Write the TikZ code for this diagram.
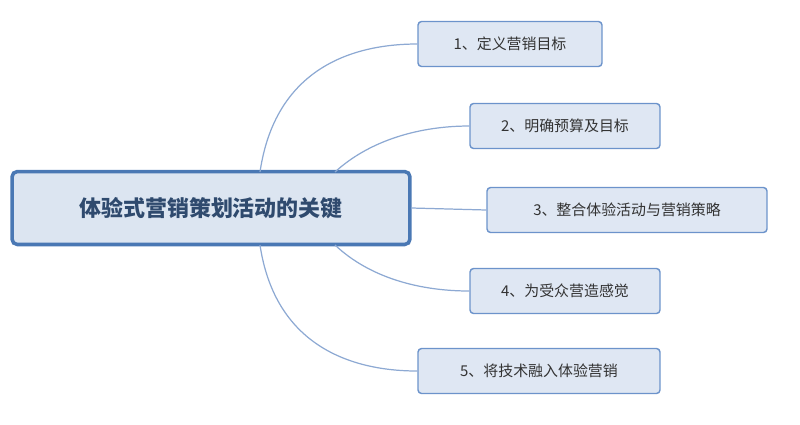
\documentclass[tikz,border=0pt]{standalone}
\usepackage{fontspec}
\setmainfont{Noto Sans CJK SC}
\usepackage{xcolor}
\usetikzlibrary{positioning}
\definecolor{rootline}{HTML}{4A78B4}
\definecolor{rootfill}{HTML}{DCE5F1}
\definecolor{roottext}{HTML}{2F4A6E}
\definecolor{leafline}{HTML}{6C93CB}
\definecolor{leaffill}{HTML}{DFE7F3}
\definecolor{linkline}{HTML}{8DA9D3}

\begin{document}
\begin{tikzpicture}[x=0.02cm,y=-0.02cm,
    root/.style={draw=rootline, line width=2pt, fill=rootfill, rounded corners=3pt,
        minimum width=7.96cm, minimum height=1.46cm, font=\fontsize{12.5}{14}\selectfont\bfseries, text=roottext},
    leaf/.style={draw=leafline, line width=0.8pt, fill=leaffill, rounded corners=2pt,
        minimum height=0.9cm, font=\fontsize{8.5}{10}\selectfont, text=black!80},
    link/.style={draw=linkline, line width=0.7pt}]
    \useasboundingbox (0,0) rectangle (800,424);

    % Central topic
    \node[root] (key) at (211,208) {体验式营销策划活动的关键};

    % Subtopics
    \node[leaf, minimum width=3.68cm] (s1) at (510,44) {1、定义营销目标};
    \node[leaf, minimum width=3.8cm] (s2) at (565,126) {2、明确预算及目标};
    \node[leaf, minimum width=5.6cm] (s3) at (627,210) {3、整合体验活动与营销策略};
    \node[leaf, minimum width=3.8cm] (s4) at (565,291) {4、为受众营造感觉};
    \node[leaf, minimum width=4.84cm] (s5) at (539,371) {5、将技术融入体验营销};

    % Connectors
    \coordinate (k1) at (260,172);
    \coordinate (k2) at (335,172);
    \coordinate (k4) at (335,245);
    \coordinate (k5) at (260,245);
    \draw[link] (k1) .. controls (275,70) and (350,44) .. (s1.west);
    \draw[link] (k2) .. controls (370,140) and (420,126) .. (s2.west);
    \draw[link] (key.east) -- (s3.west);
    \draw[link] (k4) .. controls (370,278) and (420,291) .. (s4.west);
    \draw[link] (k5) .. controls (275,345) and (350,371) .. (s5.west);
\end{tikzpicture}
\end{document}
